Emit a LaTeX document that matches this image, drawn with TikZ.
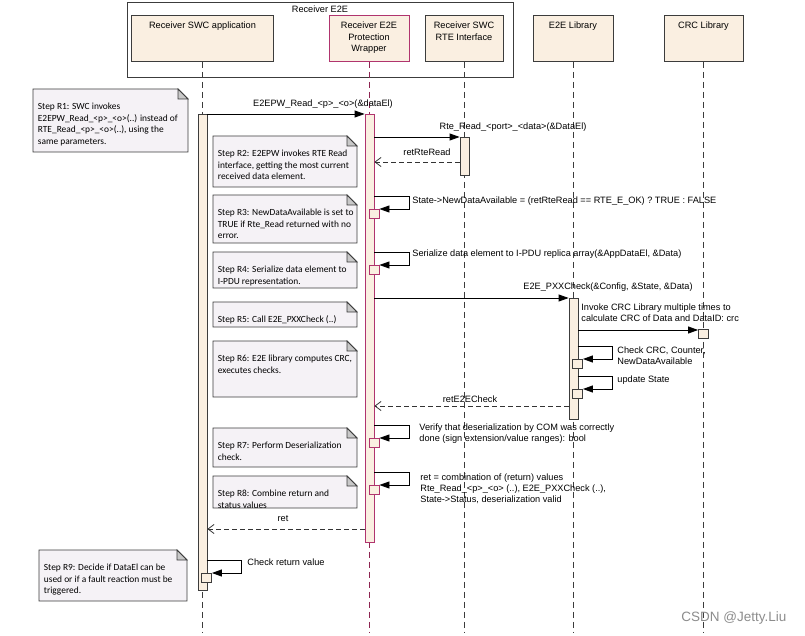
\documentclass[tikz,border=0pt]{standalone}
\usepackage{fontspec}
\setmainfont{Liberation Sans}
\newfontfamily\notefont{Carlito}
\usetikzlibrary{arrows.meta}

\definecolor{hdfill}{HTML}{FAEFE1}
\definecolor{pwline}{HTML}{B0346E}
\definecolor{pwdark}{HTML}{8E2452}
\definecolor{notefill}{HTML}{F5F2F6}
\definecolor{foldgray}{HTML}{C8C8C8}
\definecolor{edge}{HTML}{3C3C3C}

% note with folded corner: name, x1, y1, x2, y2, text
\newcommand\stepnote[6]{%
  \filldraw[notebox] (#2,#3) -- ({#4-10},#3) -- (#4,{#3+10}) -- (#4,#5) -- (#2,#5) -- cycle;
  \filldraw[notefold] ({#4-10},#3) -- ({#4-10},{#3+10}) -- (#4,{#3+10}) -- cycle;
  \node (#1) [notetext] at ({#2+4.5},{#3+13.6}) {#6};
}

\begin{document}
\begin{tikzpicture}[x=1pt,y=-1pt,line width=0.8pt,
  font=\fontsize{9.2}{11}\selectfont,
  hdbox/.style={draw=edge,fill=hdfill,anchor=north,inner sep=0pt,minimum height=46},
  hdtext/.style={anchor=north,align=center,inner sep=0pt,font=\fontsize{9.2}{11.5}\selectfont},
  lifeline/.style={draw=edge,dash pattern=on 6pt off 4pt},
  act/.style={draw=edge,fill=hdfill,anchor=north,minimum width=9,inner sep=0pt},
  sbox/.style={act,minimum width=10,minimum height=9},
  call/.style={draw=black,-{Triangle[length=10pt,width=7pt]}},
  reply/.style={draw=black!80,dash pattern=on 5pt off 3pt,-{Straight Barb[length=6pt,width=9pt]}},
  lbl/.style={inner sep=0pt},
  notebox/.style={draw=edge,fill=notefill},
  notefold/.style={draw=edge,fill=foldgray},
  notetext/.style={anchor=north west,inner sep=0pt,align=left,font=\notefont\fontsize{9.4}{11.5}\selectfont}]
  \useasboundingbox (0,0) rectangle (805,636);
  \coordinate (bottom) at (0,632);

  % Frame round the receiver side
  \draw[edge] (127,2) rectangle (513,77);
  \node (frameTitle) [lbl] at (320,9) {Receiver E2E};

  % Lifeline heads
  \node (app) [hdbox,minimum width=142] at (202.5,15) {};
  \node (pw)  [hdbox,minimum width=80,draw=pwline] at (369,15) {};
  \node (rte) [hdbox,minimum width=78] at (464,15) {};
  \node (e2e) [hdbox,minimum width=80] at (573,15) {};
  \node (crc) [hdbox,minimum width=79] at (703.5,15) {};
  \node (appTxt) [hdtext] at (202.5,21.5) {Receiver SWC application};
  \node (pwTxt)  [hdtext] at (369,21.5) {Receiver E2E\\Protection\\Wrapper};
  \node (rteTxt) [hdtext] at (464,21.5) {Receiver SWC\\RTE Interface};
  \node (e2eTxt) [hdtext] at (573,21.5) {E2E Library};
  \node (crcTxt) [hdtext] at (703.5,21.5) {CRC Library};

  % Lifelines
  \draw[lifeline] (app.south) -- (app.south |- bottom);
  \draw[lifeline,draw=pwdark] (pw.south) -- (pw.south |- bottom);
  \draw[lifeline] (rte.south) -- (rte.south |- bottom);
  \draw[lifeline] (e2e.south) -- (e2e.south |- bottom);
  \draw[lifeline] (crc.south) -- (crc.south |- bottom);

  % Activations
  \node (actApp) [act,minimum height=476] at (202.5,114) {};
  \node (actPW)  [act,draw=pwline,minimum height=428] at (369.5,114) {};
  \node (actRTE) [act,minimum height=38] at (464.5,137) {};
  \node (actE2E) [act,minimum height=121] at (573.5,298) {};

  % Small execution boxes
  \node (crcBox) [sbox] at (703.5,329) {};
  \node (sbNew) [sbox,draw=pwline] at (374,209) {};
  \node (sbSer) [sbox,draw=pwline] at (374,265) {};
  \node (sbChk) [sbox] at (577.5,359) {};
  \node (sbUpd) [sbox] at (577.5,389) {};
  \node (sbVer) [sbox,draw=pwline] at (374,438) {};
  \node (sbRet) [sbox,draw=pwline] at (374,485) {};
  \node (sbApp) [sbox] at (206.5,573) {};

  % Messages
  \coordinate (yRte) at (0,162);
  \coordinate (yE2E) at (0,406);
  \coordinate (yRet) at (0,529);
  \coordinate (crcIn) at ([yshift=-1pt]crcBox.north west);
  \draw[call] (actApp.north east) -- (actPW.north west);
  \draw[call] (actPW.east |- actRTE.north) -- (actRTE.north west);
  \draw[reply] (actRTE.west |- yRte) -- (actPW.east |- yRte);
  \draw[call] ([yshift=13pt]sbNew.north) -- ++(35,0) |- (sbNew.north east);
  \draw[call] ([yshift=13pt]sbSer.north) -- ++(35,0) |- (sbSer.north east);
  \draw[call] (actPW.east |- actE2E.north) -- (actE2E.north west);
  \draw[call] (actE2E.east |- crcIn) -- (crcIn);
  \draw[call] ([yshift=13pt]sbChk.north) -- ++(35,0) |- (sbChk.north east);
  \draw[call] ([yshift=13pt]sbUpd.north) -- ++(35,0) |- (sbUpd.north east);
  \draw[reply] (actE2E.west |- yE2E) -- (actPW.east |- yE2E);
  \draw[call] ([yshift=13pt]sbVer.north) -- ++(35,0) |- (sbVer.north east);
  \draw[call] ([yshift=13pt]sbRet.north) -- ++(35,0) |- (sbRet.north east);
  \draw[reply] (actPW.west |- yRet) -- (actApp.east |- yRet);
  \draw[call] ([yshift=13pt]sbApp.north) -- ++(35,0) |- (sbApp.north east);

  % Message labels
  \node (mRead) [lbl] at (323,104) {E2EPW\_Read\_<p>\_<o>(\&dataEl)};
  \node (mRte) [lbl] at (513,127) {Rte\_Read\_<port>\_<data>(\&DataEl)};
  \node (mRetRte) [lbl] at (427,152) {retRteRead};
  \node (mNew) [lbl,anchor=west] at (412,201)
    {State->NewDataAvailable = (retRteRead == RTE\_E\_OK) ? TRUE : FALSE};
  \node (mSer) [lbl,anchor=west] at (412,254)
    {Serialize data element to I-PDU replica array(\&AppDataEl, \&Data)};
  \node (mChk) [lbl] at (608,287) {E2E\_PXXCheck(\&Config, \&State, \&Data)};
  \node (mCrc) [lbl,anchor=north west,align=left] at (581,303.5)
    {Invoke CRC Library multiple times to\\calculate CRC of Data and DataID: crc};
  \node (mCnt) [lbl,anchor=north west,align=left] at (617,346.5)
    {Check CRC, Counter,\\NewDataAvailable};
  \node (mUpd) [lbl,anchor=west] at (617,380) {update State};
  \node (mRetE2E) [lbl] at (470,399) {retE2ECheck};
  \node (mVer) [lbl,anchor=north west,align=left] at (419,423.5)
    {Verify that deserialization by COM was correctly\\done (sign extension/value ranges): bool};
  \node (mComb) [lbl,anchor=north west,align=left] at (420,473.5)
    {ret = combination of (return) values\\Rte\_Read\_<p>\_<o> (..), E2E\_PXXCheck (..),\\State->Status, deserialization valid};
  \node (mRet) [lbl] at (283,519) {ret};
  \node (mCheck) [lbl,anchor=west] at (247,562) {Check return value};

  % Step notes
  \stepnote{nR1}{33}{89}{188}{152}{Step R1: SWC invokes\\E2EPW\_Read\_<p>\_<o>(..) instead of\\RTE\_Read\_<p>\_<o>(..), using the\\same parameters.}
  \stepnote{nR2}{213}{136}{357}{187}{Step R2: E2EPW invokes RTE Read\\interface, getting the most current\\received data element.}
  \stepnote{nR3}{213}{195}{357}{243}{Step R3: NewDataAvailable is set to\\TRUE if Rte\_Read returned with no\\error.}
  \stepnote{nR4}{213}{252}{357}{288}{Step R4: Serialize data element to\\I-PDU representation.}
  \stepnote{nR5}{213}{302}{357}{327}{Step R5: Call E2E\_PXXCheck (..)}
  \stepnote{nR6}{213}{341}{357}{397}{Step R6: E2E library computes CRC,\\executes checks.}
  \stepnote{nR7}{213}{428}{357}{467}{Step R7: Perform Deserialization\\check.}
  \stepnote{nR8}{213}{476}{357}{508}{Step R8: Combine return and\\status values}
  \stepnote{nR9}{39}{550}{187}{601}{Step R9: Decide if DataEl can be\\used or if a fault reaction must be\\triggered.}

  % Watermark
  \node (mark) [lbl,anchor=west,text=black!45,font=\fontsize{13.5}{15}\selectfont] at (681,618) {CSDN @Jetty.Liu};
\end{tikzpicture}
\end{document}
